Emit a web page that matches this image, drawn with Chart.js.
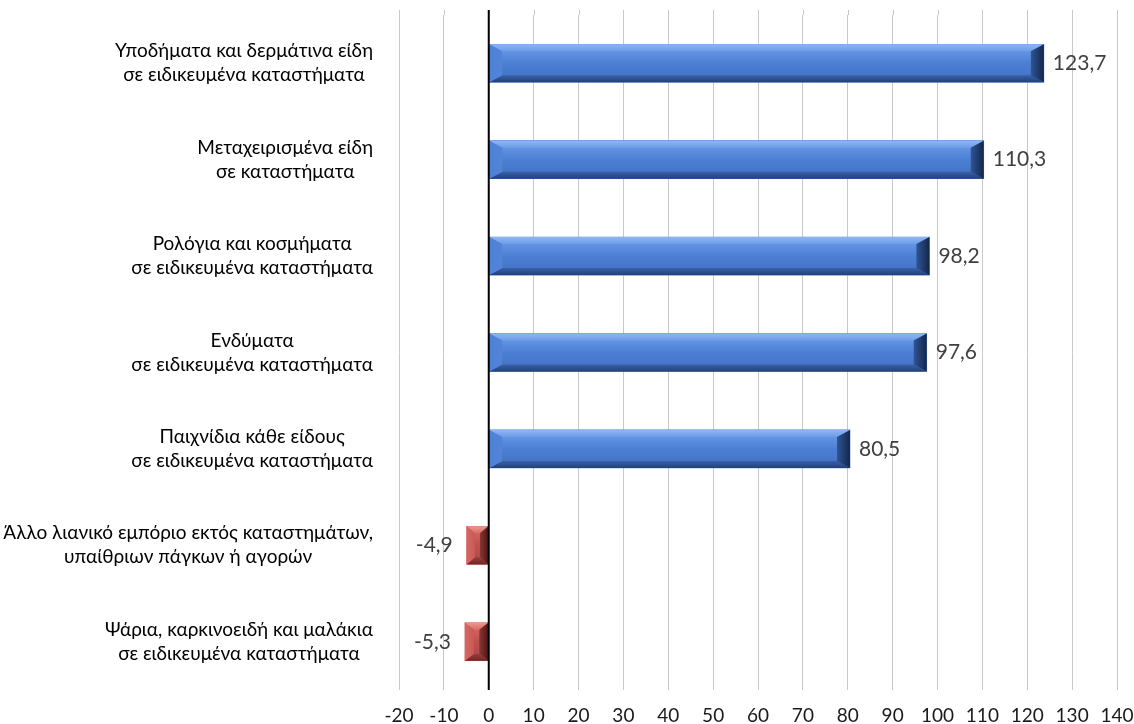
<!DOCTYPE html>
<html>
<head>
<meta charset="utf-8">
<script src="https://cdn.jsdelivr.net/npm/chart.js@4"></script>
<style>
  html, body { margin: 0; padding: 0; background: #fff; }
  #wrap { width: 1134px; height: 724px; }
</style>
</head>
<body>
<div id="wrap"><canvas id="c"></canvas></div>
<script>
const categories = [
  ['Υποδήματα και δερμάτινα είδη', 'σε ειδικευμένα καταστήματα'],
  ['Μεταχειρισμένα είδη', 'σε καταστήματα'],
  ['Ρολόγια και κοσμήματα', 'σε ειδικευμένα καταστήματα'],
  ['Ενδύματα', 'σε ειδικευμένα καταστήματα'],
  ['Παιχνίδια κάθε είδους', 'σε ειδικευμένα καταστήματα'],
  ['Άλλο λιανικό εμπόριο εκτός καταστημάτων,', 'υπαίθριων πάγκων ή αγορών'],
  ['Ψάρια, καρκινοειδή και μαλάκια', 'σε ειδικευμένα καταστήματα']
];
const values = [123.7, 110.3, 98.2, 97.6, 80.5, -4.9, -5.3];
const xMin = -20, xMax = 140, xStep = 10;

const FONT = "Lato, 'Open Sans', sans-serif";

// bevel palettes: gradient stops for each facet
const blue = {
  face: ['#6394e4', '#4c7fd4', '#4475c8'],
  top: ['#8fb6f2', '#6d9de8'],
  bottom: ['#3a62a8', '#22407a'],
  left: ['#4e82d6', '#5284d6'],
  right: ['#14264a', '#2f5496']
};
const red = {
  face: ['#d0625e', '#c0504d', '#b44a47'],
  top: ['#ee9590', '#d86c68'],
  bottom: ['#93403d', '#6e2826'],
  left: ['#d66864', '#c85955'],
  right: ['#4e1716', '#8a3532']
};

function poly(ctx, pts, fill) {
  ctx.beginPath();
  ctx.moveTo(pts[0][0], pts[0][1]);
  for (let i = 1; i < pts.length; i++) ctx.lineTo(pts[i][0], pts[i][1]);
  ctx.closePath();
  ctx.fillStyle = fill;
  ctx.fill();
}
function grad(ctx, x0, y0, x1, y1, stops) {
  const g = ctx.createLinearGradient(x0, y0, x1, y1);
  stops.forEach((c, k) => g.addColorStop(k / (stops.length - 1), c));
  return g;
}

const bevelBars = {
  id: 'bevelBars',
  afterDatasetsDraw(chart) {
    const ctx = chart.ctx;
    const meta = chart.getDatasetMeta(0);
    ctx.save();
    meta.data.forEach((bar, i) => {
      const p = bar.getProps(['x', 'y', 'base', 'height'], true);
      const L = Math.min(p.x, p.base), R = Math.max(p.x, p.base);
      const T = p.y - p.height / 2, B = p.y + p.height / 2;
      const c = values[i] < 0 ? red : blue;
      const bx = Math.min(13, (R - L) / 2.6);
      const by = 7;
      ctx.fillStyle = grad(ctx, 0, T + by, 0, B - by, c.face);
      ctx.fillRect(L, T, R - L, B - T);
      poly(ctx, [[L, T], [R, T], [R - bx, T + by], [L + bx, T + by]], grad(ctx, 0, T, 0, T + by, c.top));
      poly(ctx, [[L, B], [R, B], [R - bx, B - by], [L + bx, B - by]], grad(ctx, 0, B - by, 0, B, c.bottom));
      poly(ctx, [[L, T], [L + bx, T + by], [L + bx, B - by], [L, B]], grad(ctx, L, 0, L + bx, 0, c.left));
      poly(ctx, [[R, T], [R - bx, T + by], [R - bx, B - by], [R, B]], grad(ctx, R, 0, R - bx, 0, c.right));

      const txt = values[i].toFixed(1).replace('.', ',');
      ctx.font = '21px ' + FONT;
      ctx.fillStyle = '#404040';
      ctx.textBaseline = 'middle';
      if (values[i] >= 0) {
        ctx.textAlign = 'left';
        ctx.fillText(txt, R + 9, p.y);
      } else {
        ctx.textAlign = 'right';
        ctx.fillText(txt, L - 14, p.y);
      }
    });
    const x0 = chart.scales.x.getPixelForValue(0);
    ctx.strokeStyle = '#000';
    ctx.lineWidth = 2;
    ctx.beginPath();
    ctx.moveTo(x0, 10);
    ctx.lineTo(x0, chart.chartArea.bottom);
    ctx.stroke();
    ctx.restore();
  }
};

// gridlines reach a little above the plot area in the original
const gridTop = {
  id: 'gridTop',
  beforeDatasetsDraw(chart) {
    const ctx = chart.ctx, xs = chart.scales.x;
    ctx.save();
    ctx.strokeStyle = '#c8c8c8';
    ctx.lineWidth = 1;
    xs.ticks.forEach(t => {
      const x = Math.round(xs.getPixelForValue(t.value)) + 0.5;
      ctx.beginPath();
      ctx.moveTo(x, 10);
      ctx.lineTo(x, chart.chartArea.top);
      ctx.stroke();
    });
    ctx.restore();
  }
};

const catLabels = {
  id: 'catLabels',
  afterDraw(chart) {
    const ctx = chart.ctx;
    const y = chart.scales.y;
    const rightEdge = 373, lh = 24;
    ctx.save();
    ctx.font = '19px ' + FONT;
    ctx.fillStyle = '#000';
    ctx.textAlign = 'center';
    ctx.textBaseline = 'middle';
    categories.forEach((lines, i) => {
      const cy = y.getPixelForValue(i);
      const w = Math.max(...lines.map(s => ctx.measureText(s).width));
      const cx = rightEdge - w / 2;
      lines.forEach((s, j) => {
        ctx.fillText(s, cx, cy + lh * (j - (lines.length - 1) / 2));
      });
    });
    ctx.restore();
  }
};

new Chart(document.getElementById('c'), {
  type: 'bar',
  data: {
    labels: categories,
    datasets: [{
      data: values,
      backgroundColor: values.map(v => v < 0 ? red.face[1] : blue.face[1]),
      borderWidth: 0,
      barThickness: 38
    }]
  },
  options: {
    indexAxis: 'y',
    responsive: true,
    maintainAspectRatio: false,
    animation: false,
    layout: { padding: { top: 15, right: 0, left: 0, bottom: 0 } },
    plugins: { legend: { display: false }, tooltip: { enabled: false } },
    scales: {
      x: {
        min: xMin,
        max: xMax,
        ticks: { stepSize: xStep, color: '#1a1a1a', font: { size: 19, family: FONT }, padding: 14, maxRotation: 0 },
        grid: { color: '#c8c8c8', lineWidth: 1, drawTicks: false },
        border: { display: false },
        afterFit: s => { s.height = 34; s.paddingRight = 17; s.paddingLeft = 0; }
      },
      y: {
        ticks: { display: false },
        grid: { display: false },
        border: { display: false },
        afterFit: s => { s.width = 399; }
      }
    }
  },
  plugins: [gridTop, bevelBars, catLabels]
});
</script>
</body>
</html>
